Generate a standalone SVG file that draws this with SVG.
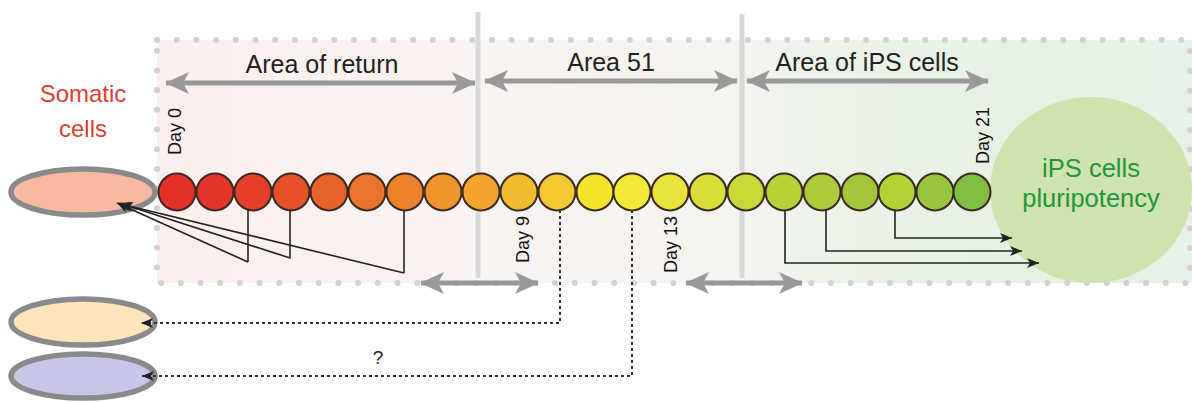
<svg xmlns="http://www.w3.org/2000/svg" width="1192" height="402" viewBox="0 0 1192 402">
<style>
.lbl{font-family:"Liberation Sans",Arial,sans-serif;font-size:25px;fill:#222}
.day{font-family:"Liberation Sans",Arial,sans-serif;font-size:18px;fill:#111}
.cell{stroke:#3a2a20;stroke-width:2}
.garr{stroke:#999;stroke-width:5;fill:none}
.blk{stroke:#222;stroke-width:1.6;fill:none}
.dot{stroke:#333;stroke-width:2;stroke-dasharray:3 3;fill:none}
.soma{stroke:#8a8a8a;stroke-width:5.5}
</style>
<defs>
<linearGradient id="bg" x1="157" y1="0" x2="1192" y2="0" gradientUnits="userSpaceOnUse">
<stop offset="0" stop-color="#fcefee"/>
<stop offset="0.3" stop-color="#f9f3f1"/>
<stop offset="0.55" stop-color="#f5f4ef"/>
<stop offset="0.62" stop-color="#edf3ea"/>
<stop offset="0.85" stop-color="#e5f1e2"/>
<stop offset="1" stop-color="#e6f2e8"/>
</linearGradient>
<marker id="ga" viewBox="0 0 24 24" refX="23" refY="12" markerWidth="24" markerHeight="24" markerUnits="userSpaceOnUse" orient="auto-start-reverse">
<path d="M0,1 L24,12 L0,23 L6,12 z" fill="#999"/>
</marker>
<marker id="ba" viewBox="0 0 12 10" refX="12" refY="5" markerWidth="12" markerHeight="10" markerUnits="userSpaceOnUse" orient="auto">
<path d="M0,0 L12,5 L0,10 L3,5 z" fill="#222"/>
</marker>
</defs>
<g id="background">
<rect x="157" y="40" width="1035" height="243" fill="url(#bg)"/>
<path d="M157,40 H1190 V283 H157 Z" fill="none" stroke="#d2d2d2" stroke-width="6" stroke-linecap="round" stroke-dasharray="0 19.7"/>
<line x1="478" y1="12" x2="478" y2="278" stroke="#d9d9d9" stroke-width="5"/>
<line x1="742" y1="14" x2="742" y2="278" stroke="#d9d9d9" stroke-width="5"/>
</g>
<g id="ips-node">
<ellipse cx="1091" cy="190" rx="101" ry="93" fill="#cfe3ad"/>
<text x="1091" y="177" text-anchor="middle" font-family="Liberation Sans,Arial,sans-serif" font-size="25.5" fill="#23963f">iPS cells</text>
<text x="1091" y="207" text-anchor="middle" font-family="Liberation Sans,Arial,sans-serif" font-size="25.5" fill="#23963f">pluripotency</text>
</g>
<g id="labels">
<text class="lbl" x="322" y="73" text-anchor="middle">Area of return</text>
<text class="lbl" x="611" y="71" text-anchor="middle">Area 51</text>
<text class="lbl" x="867" y="71" text-anchor="middle">Area of iPS cells</text>
<text x="83" y="102" text-anchor="middle" font-family="Liberation Sans,Arial,sans-serif" font-size="24" fill="#e0402f">Somatic</text>
<text x="83" y="137" text-anchor="middle" font-family="Liberation Sans,Arial,sans-serif" font-size="24" fill="#e0402f">cells</text>
<text class="day" transform="translate(181,155) rotate(-90)">Day 0</text>
<text class="day" transform="translate(529,263) rotate(-90)">Day 9</text>
<text class="day" transform="translate(677,273) rotate(-90)">Day 13</text>
<text class="day" transform="translate(989,164) rotate(-90)">Day 21</text>
<text x="378" y="364" text-anchor="middle" font-family="Liberation Sans,Arial,sans-serif" font-size="19" fill="#222">?</text>
</g>
<g id="somatic-nodes">
<ellipse id="somatic" class="soma" cx="83" cy="192" rx="72" ry="23" fill="#f9b9a1"/>
<ellipse id="peach" class="soma" cx="83" cy="322" rx="72" ry="23" fill="#fde4ba"/>
<ellipse id="lavender" class="soma" cx="83" cy="376" rx="72" ry="22" fill="#c5c6ea"/>
</g>
<g id="connectors">
<line class="garr" x1="166" y1="83" x2="475" y2="83" marker-start="url(#ga)" marker-end="url(#ga)"/>
<line class="garr" x1="485" y1="81" x2="737" y2="81" marker-start="url(#ga)" marker-end="url(#ga)"/>
<line class="garr" x1="747" y1="81" x2="988" y2="81" marker-start="url(#ga)" marker-end="url(#ga)"/>
<line class="garr" x1="421" y1="283" x2="538" y2="283" marker-start="url(#ga)" marker-end="url(#ga)"/>
<line class="garr" x1="686" y1="283" x2="802" y2="283" marker-start="url(#ga)" marker-end="url(#ga)"/>
<polyline class="blk" points="248,262 117,203" marker-end="url(#ba)"/>
<polyline class="blk" points="290,209 290,258 119,203" marker-end="url(#ba)"/>
<polyline class="blk" points="404,273 121,204" marker-end="url(#ba)"/>
<polyline class="blk" stroke-width="2.6" points="248,209 248,262"/>
<polyline class="blk" stroke-width="2.6" points="404,209 404,273"/>
<polyline class="blk" points="785,209 785,263 1039,263" marker-end="url(#ba)"/>
<polyline class="blk" points="826,209 826,251 1022,251" marker-end="url(#ba)"/>
<polyline class="blk" points="895,209 895,238 1012,238" marker-end="url(#ba)"/>
<polyline class="dot" points="560,210 560,323 141,323" marker-end="url(#ba)"/>
<polyline class="dot" points="632,210 632,376 142,376" marker-end="url(#ba)"/>
</g>
<g id="cells">
<circle class="cell" cx="177" cy="192" r="18.5" fill="#e3312a"/>
<circle class="cell" cx="215" cy="192" r="18.5" fill="#e3352a"/>
<circle class="cell" cx="253" cy="192" r="18.5" fill="#e4402a"/>
<circle class="cell" cx="291" cy="192" r="18.5" fill="#e5522a"/>
<circle class="cell" cx="329" cy="192" r="18.5" fill="#e7622b"/>
<circle class="cell" cx="367" cy="192" r="18.5" fill="#ea742b"/>
<circle class="cell" cx="405" cy="192" r="18.5" fill="#ec832b"/>
<circle class="cell" cx="443" cy="192" r="18.5" fill="#ef952c"/>
<circle class="cell" cx="481" cy="192" r="18.5" fill="#f1a52d"/>
<circle class="cell" cx="519" cy="192" r="18.5" fill="#f3bb2f"/>
<circle class="cell" cx="557" cy="192" r="18.5" fill="#f4c830"/>
<circle class="cell" cx="595" cy="192" r="18.5" fill="#f5e32c"/>
<circle class="cell" cx="632" cy="192" r="18.5" fill="#f4e83a"/>
<circle class="cell" cx="670" cy="192" r="18.5" fill="#e8e43a"/>
<circle class="cell" cx="708" cy="192" r="18.5" fill="#d9df38"/>
<circle class="cell" cx="746" cy="192" r="18.5" fill="#c9d836"/>
<circle class="cell" cx="784" cy="192" r="18.5" fill="#b9d136"/>
<circle class="cell" cx="822" cy="192" r="18.5" fill="#acca3a"/>
<circle class="cell" cx="860" cy="192" r="18.5" fill="#a3c53c"/>
<circle class="cell" cx="897" cy="192" r="18.5" fill="#b3d236"/>
<circle class="cell" cx="935" cy="192" r="18.5" fill="#98c43e"/>
<circle class="cell" cx="972" cy="192" r="18.5" fill="#7fbe40"/>
</g>
</svg>
